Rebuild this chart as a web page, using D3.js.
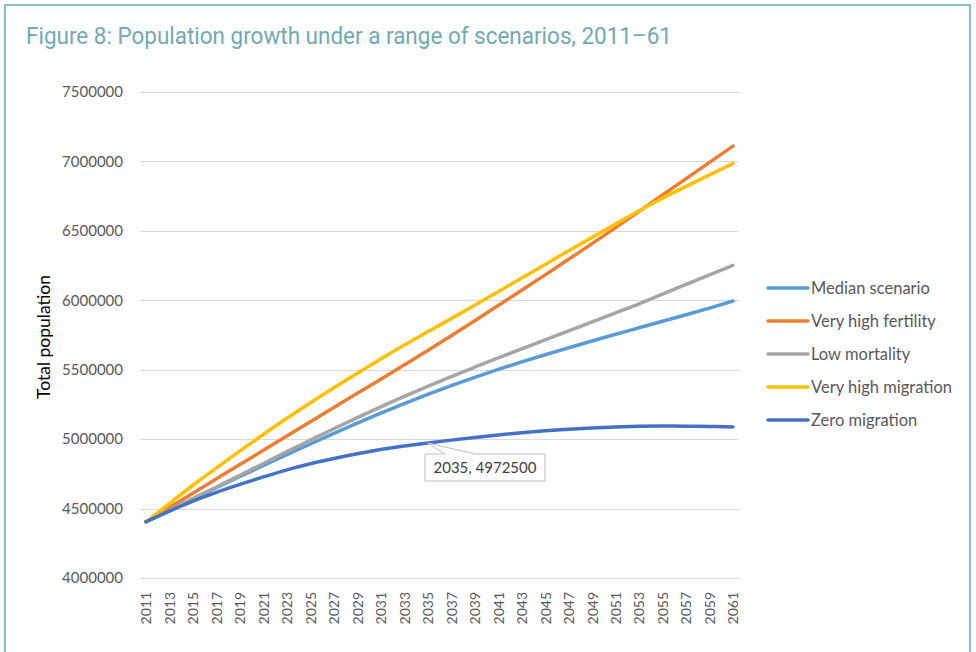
<!DOCTYPE html>
<html>
<head>
<meta charset="utf-8">
<script src="https://cdn.jsdelivr.net/npm/d3@7"></script>
<style>
  body { margin: 0; background: #fff; }
  svg { display: block; }
</style>
</head>
<body>
<svg width="976" height="652"></svg>
<script>
// values, odd years 2011..2061
const years = d3.range(2011, 2062, 2);
const seriesNames = ["Median scenario", "Very high fertility", "Low mortality", "Very high migration", "Zero migration"];
const seriesColors = ["#5B9BD5", "#ED7D31", "#A5A5A5", "#FFC000", "#4472C4"];

const median = [4405000, 4488000, 4570000, 4651000, 4731000, 4810000, 4888000, 4965000, 5041000, 5115000,
                5187000, 5256000, 5322000, 5385000, 5445000, 5502000, 5556000, 5608000, 5658000, 5707000,
                5755000, 5802000, 5849000, 5896000, 5944000, 5995000];
const highFertility = [4405000, 4508000, 4611000, 4714000, 4817000, 4920000, 5023000, 5126000, 5228000, 5330000,
                5432000, 5535000, 5638000, 5745000, 5853000, 5962000, 6072000, 6183000, 6295000, 6408000,
                6523000, 6640000, 6758000, 6876000, 6993000, 7110000];
const lowMortality = [4405000, 4488000, 4572000, 4655000, 4740000, 4825000, 4910000, 4993000, 5075000, 5155000,
                5233000, 5308000, 5380000, 5450000, 5518000, 5585000, 5650000, 5715000, 5780000, 5845000,
                5910000, 5975000, 6045000, 6115000, 6183000, 6252000];
const highMigration = [4405000, 4538000, 4668000, 4793000, 4915000, 5034000, 5150000, 5262000, 5370000, 5475000,
                5578000, 5678000, 5773000, 5868000, 5965000, 6062000, 6160000, 6258000, 6357000, 6453000,
                6550000, 6645000, 6735000, 6820000, 6903000, 6985000];
const zeroMigration = [4405000, 4482000, 4554000, 4617000, 4674000, 4728000, 4779000, 4823000, 4861000, 4895000,
                4925000, 4950000, 4972500, 4993000, 5012000, 5030000, 5046000, 5060000, 5071000, 5080000,
                5087000, 5092000, 5094000, 5093000, 5091000, 5088000];
const yTicks = [4000000, 4500000, 5000000, 5500000, 6000000, 6500000, 7000000, 7500000];
const labelPoint = {year: 2035, value: 4972500};

const allSeries = [median, highFertility, lowMortality, highMigration, zeroMigration];

const svg = d3.select("svg");
const font = "Lato, 'Open Sans', sans-serif";

// frame
svg.append("path")
    .attr("d", "M5,652 L5,5 L970,5 L970,652")
    .attr("fill", "none")
    .attr("stroke", "#8dbdc6")
    .attr("stroke-width", 2);

svg.append("text")
    .attr("x", 26)
    .attr("y", 44)
    .attr("font-family", "Roboto, sans-serif")
    .attr("font-weight", 400)
    .attr("font-size", 24)
    .attr("fill", "#72a9b3")
    .attr("textLength", 646)
    .attr("lengthAdjust", "spacingAndGlyphs")
    .text("Figure 8: Population growth under a range of scenarios, 2011\u201361");

const x = d3.scaleLinear().domain([2011, 2061]).range([146, 733]);
const y = d3.scaleLinear().domain([4000000, 7500000]).range([578, 92]);

// gridlines
svg.append("g")
    .selectAll("line")
    .data(yTicks)
    .enter()
    .append("line")
    .attr("x1", 140)
    .attr("x2", 739)
    .attr("y1", d => Math.round(y(d)) + 0.5)
    .attr("y2", d => Math.round(y(d)) + 0.5)
    .attr("stroke", "#d9d9d9")
    .attr("stroke-width", 1);

// y axis labels
const yAxis = svg.append("g")
    .attr("transform", "translate(140,0)")
    .call(d3.axisLeft(y).tickValues(yTicks).tickFormat(d3.format("d")).tickSize(0).tickPadding(17));
yAxis.select(".domain").remove();
yAxis.selectAll("text")
    .attr("font-family", font)
    .attr("font-size", 15)
    .attr("fill", "#595959");

// x axis labels
const xAxis = svg.append("g")
    .attr("transform", "translate(0,578)")
    .call(d3.axisBottom(x).tickValues(years).tickFormat(d3.format("d")).tickSize(0));
xAxis.select(".domain").remove();
xAxis.selectAll("text")
    .attr("font-family", font)
    .attr("font-size", 14)
    .attr("fill", "#595959")
    .attr("text-anchor", "end")
    .attr("dy", "0.35em")
    .attr("transform", "translate(0,14) rotate(-90)")
    .attr("x", 0)
    .attr("y", 0);

svg.append("text")
    .attr("transform", "translate(50,337) rotate(-90)")
    .attr("text-anchor", "middle")
    .attr("font-family", font)
    .attr("font-size", 17.5)
    .attr("fill", "#000")
    .text("Total population");

// lines
const line = d3.line()
    .x((d, i) => x(years[i]))
    .y(d => y(d))
    .curve(d3.curveMonotoneX);

svg.append("g")
    .selectAll("path")
    .data(allSeries)
    .enter()
    .append("path")
    .attr("d", line)
    .attr("fill", "none")
    .attr("stroke", (d, i) => seriesColors[i])
    .attr("stroke-width", 3.5)
    .attr("stroke-linecap", "round")
    .attr("stroke-linejoin", "round");

// data callout
const px = x(labelPoint.year), py = y(labelPoint.value);
const bx = 425, by = 454, bw = 120, bh = 27;
svg.append("path")
    .attr("d", `M${bx},${by} L${bx + 20},${by} L${px},${py} L${bx + 50},${by} L${bx + bw},${by} L${bx + bw},${by + bh} L${bx},${by + bh} Z`)
    .attr("fill", "#fff")
    .attr("stroke", "#bfbfbf")
    .attr("stroke-width", 1);
svg.append("text")
    .attr("x", bx + bw / 2)
    .attr("y", by + bh / 2)
    .attr("dy", "0.35em")
    .attr("text-anchor", "middle")
    .attr("font-family", font)
    .attr("font-size", 15)
    .attr("fill", "#404040")
    .text(labelPoint.year + ", " + labelPoint.value);

// legend
const legend = svg.append("g")
    .selectAll("g")
    .data(seriesNames)
    .enter()
    .append("g")
    .attr("transform", (d, i) => `translate(768,${288 + i * 33})`);
legend.append("line")
    .attr("x1", 0).attr("x2", 40)
    .attr("stroke", (d, i) => seriesColors[i])
    .attr("stroke-width", 3.5)
    .attr("stroke-linecap", "round");
legend.append("text")
    .attr("x", 43)
    .attr("dy", "0.35em")
    .attr("font-family", font)
    .attr("font-size", 16.5)
    .attr("fill", "#595959")
    .text(d => d);
</script>
</body>
</html>
